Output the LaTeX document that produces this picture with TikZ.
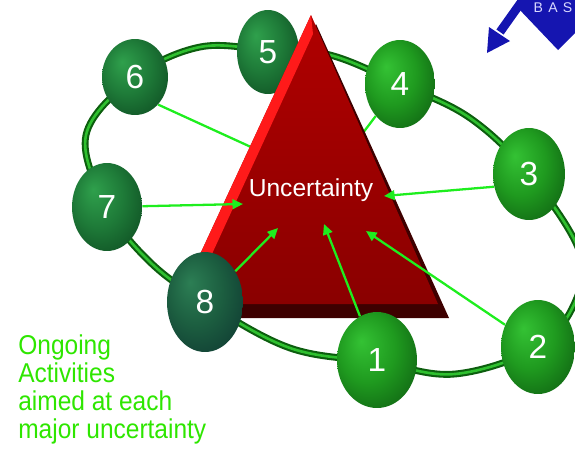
\documentclass[tikz,border=0pt]{standalone}
\usepackage{fontspec}
\setmainfont{Liberation Sans}
\usetikzlibrary{shapes.geometric,arrows.meta,backgrounds}
\definecolor{arrgreen}{HTML}{1EEE1E}
\definecolor{capgreen}{HTML}{2EE600}
\definecolor{ringdark}{HTML}{0C5E0E}
\definecolor{ringlite}{HTML}{2FC02F}
\definecolor{redtop}{HTML}{B00000}
\definecolor{redbot}{HTML}{8A0000}
\definecolor{redhigh}{HTML}{FF1A1A}
\definecolor{redshad}{HTML}{3E0000}
\definecolor{logoblue}{HTML}{1515B0}
% ball colours
\definecolor{hiA}{HTML}{34C234}\definecolor{hiB}{HTML}{1F9A1F}
\definecolor{hiC}{HTML}{0F6012}\definecolor{hiD}{HTML}{063A08}
\definecolor{mdA}{HTML}{2FA04C}\definecolor{mdB}{HTML}{1E7A38}
\definecolor{mdC}{HTML}{0E4D22}\definecolor{mdD}{HTML}{062A12}
\definecolor{dkA}{HTML}{2C7E54}\definecolor{dkB}{HTML}{1C5E40}
\definecolor{dkC}{HTML}{0F3A32}\definecolor{dkD}{HTML}{081E2A}
\pgfdeclareradialshading{ballhi}{\pgfpoint{-10bp}{10bp}}{color(0bp)=(hiA); color(18bp)=(hiB); color(36bp)=(hiC); color(50bp)=(hiD)}
\pgfdeclareradialshading{ballmd}{\pgfpoint{-10bp}{10bp}}{color(0bp)=(mdA); color(18bp)=(mdB); color(36bp)=(mdC); color(50bp)=(mdD)}
\pgfdeclareradialshading{balldk}{\pgfpoint{-10bp}{10bp}}{color(0bp)=(dkA); color(18bp)=(dkB); color(36bp)=(dkC); color(50bp)=(dkD)}
\tikzset{
	ball/.style={ellipse, draw=none, inner sep=0pt, text=white,
		font=\fontsize{19}{19}\selectfont},
	ringline/.style={draw=ringdark, double=ringlite, double distance=1.5pt, line width=1.2pt},
	hidline/.style={draw=arrgreen, line width=1.3pt},
	linkarr/.style={-{Triangle[length=6pt,width=5.5pt]}, draw=arrgreen, line width=1.3pt}
}
\begin{document}
\begin{tikzpicture}[x=0.02cm, y=-0.02cm]
	\useasboundingbox (0,0) rectangle (575,454);
	% ball 5 sits behind the triangle
	\node[ball, shading=ballmd, minimum width=1.24cm, minimum height=1.68cm] (b5) at (268,52) {5};
	% the triangle
	\fill[redshad] (316,24) -- (449,318) -- (182,318) -- cycle;
	\shade[top color=redtop, bottom color=redbot] (311,15) -- (438,304) -- (177,304) -- cycle;
	\fill[redhigh] (311,15) -- (313,34) -- (189,304) -- (177,304) -- cycle;
	\node[text=white, font=\fontsize{14}{14}\selectfont, anchor=base] (unc) at (311,196) {Uncertainty};
	\coordinate (t4) at (350,150);
	\coordinate (t5) at (290,150);
	\coordinate (t6) at (275,158);
	\coordinate (tgt1) at (324,224);
	\coordinate (tgt2) at (366,231);
	\coordinate (tgt3) at (384,196);
	\coordinate (tgt7) at (243,204);
	\coordinate (tgt8) at (278,228);
	% the other balls
	\node[ball, shading=ballhi, minimum width=1.6cm, minimum height=1.92cm] (b1) at (377,360) {1};
	\node[ball, shading=ballhi, minimum width=1.48cm, minimum height=1.88cm] (b2) at (538,347) {2};
	\node[ball, shading=ballhi, minimum width=1.44cm, minimum height=1.84cm] (b3) at (529,174) {3};
	\node[ball, shading=ballhi, minimum width=1.4cm, minimum height=1.76cm] (b4) at (400,84) {4};
	\node[ball, shading=ballmd, minimum width=1.32cm, minimum height=1.52cm] (b6) at (135,77) {6};
	\node[ball, shading=ballmd, minimum width=1.4cm, minimum height=1.76cm] (b7) at (107,207) {7};
	\node[ball, shading=balldk, minimum width=1.52cm, minimum height=2cm] (b8) at (205,302) {8};
	% ring and hidden links
	\begin{scope}[on background layer]
		\draw[ringline] plot[smooth cycle, tension=0.6] coordinates {(377,362) (455,374) (538,347) (576,300) (579,250) (529,174) (470,118) (400,84) (330,55) (268,50) (200,47) (135,77) (86,135) (107,207) (150,262) (205,302) (290,348)};
		\draw[hidline] (b4) -- (t4);
		\draw[hidline] (b5) -- (t5);
		\draw[hidline] (b6.-50) -- (t6);
	\end{scope}
	% arrows into the triangle
	\draw[linkarr] (b1) -- (tgt1);
	\draw[linkarr] (b2) -- (tgt2);
	\draw[linkarr] (b3.200) -- (tgt3);
	\draw[linkarr] (b7) -- (tgt7);
	\draw[linkarr] (b8) -- (tgt8);
	% caption
	\node[anchor=north west, inner sep=0pt, align=left, text=capgreen,
		font=\fontsize{15.5}{16}\selectfont, xscale=0.9, transform shape] (cap) at (18,334)
		{Ongoing\\Activities\\aimed at each\\major uncertainty};
	% logo corner
	\fill[logoblue] (558,50) -- (518,8) -- (530,-10) -- (600,-10) -- (590,18) -- cycle;
	\draw[logoblue, line width=5pt] (527,-6) -- (500,32);
	\fill[logoblue] (487,53) -- (489,27) -- (510,41) -- cycle;
	\node[text=blue!15!white, font=\fontsize{8}{8}\selectfont, anchor=base] (bas) at (553,12) {B\hspace{3pt}A\hspace{3pt}S};
\end{tikzpicture}
\end{document}
